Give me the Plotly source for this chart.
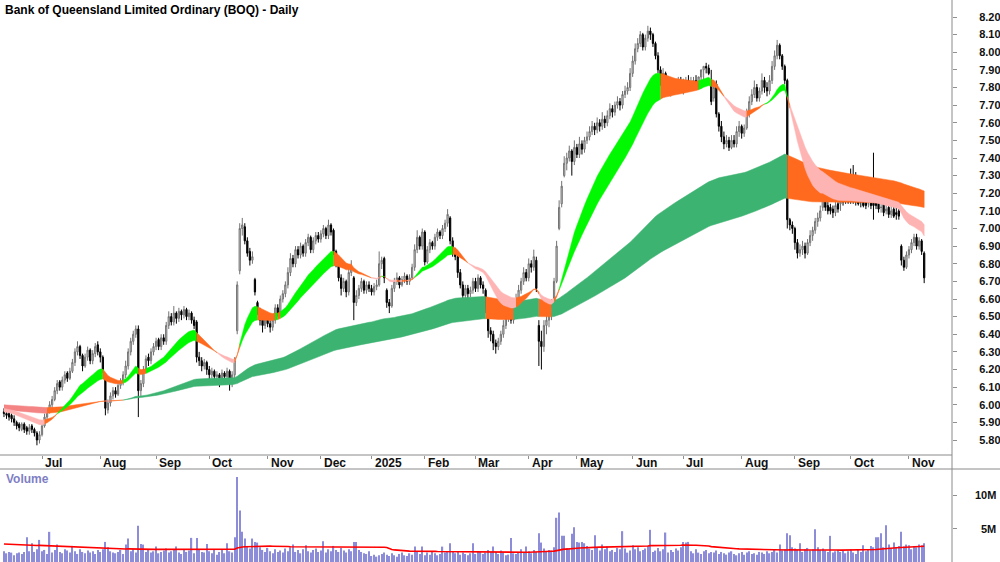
import numpy as np
import pandas as pd
import plotly.graph_objects as go

title = "Bank of Queensland Limited Ordinary (BOQ) - Daily"
first_day = "2024-06-07"
last_day = "2025-11-11"
asx_holidays = ["2024-06-10", "2024-12-25", "2024-12-26", "2025-01-01", "2025-01-27",
                "2025-04-18", "2025-04-21", "2025-04-25", "2025-06-09"]

opens = [
    5.96, 5.95, 5.95, 5.94, 5.92, 5.90, 5.89, 5.86, 5.89, 5.87,
    5.85, 5.88, 5.86, 5.84, 5.80, 5.83, 5.88, 5.93, 5.96, 6.00,
    6.03, 6.08, 6.13, 6.10, 6.14, 6.18, 6.15, 6.19, 6.24, 6.30,
    6.33, 6.28, 6.22, 6.27, 6.31, 6.25, 6.29, 6.34, 6.30, 6.27,
    6.16, 5.97, 6.01, 6.05, 6.08, 6.06, 6.11, 6.13, 6.17, 6.22,
    6.30, 6.36, 6.40, 6.43, 6.08, 6.12, 6.20, 6.27, 6.25, 6.30,
    6.33, 6.37, 6.33, 6.38, 6.36, 6.45, 6.50, 6.47, 6.52, 6.49,
    6.53, 6.51, 6.54, 6.50, 6.52, 6.48, 6.47, 6.27, 6.25, 6.22,
    6.24, 6.20, 6.17, 6.19, 6.16, 6.17, 6.15, 6.18, 6.16, 6.19,
    6.15, 6.17, 6.42, 6.76, 7.00, 7.01, 6.93, 6.87, 6.82, 6.71,
    6.58, 6.53, 6.48, 6.45, 6.50, 6.46, 6.44, 6.48, 6.55, 6.52,
    6.60, 6.63, 6.68, 6.75, 6.83, 6.80, 6.88, 6.85, 6.90, 6.86,
    6.92, 6.95, 6.88, 6.93, 6.96, 6.94, 6.97, 7.00, 6.96, 7.02,
    6.99, 6.87, 6.80, 6.72, 6.66, 6.70, 6.64, 6.75, 6.72, 6.58,
    6.62, 6.66, 6.70, 6.65, 6.68, 6.66, 6.64, 6.67, 6.68, 6.80,
    6.83, 6.65, 6.58, 6.56, 6.66, 6.70, 6.72, 6.68, 6.71, 6.73,
    6.70, 6.72, 6.78, 6.88, 6.95, 6.90, 6.98, 6.81, 6.88, 6.92,
    6.90, 6.95, 6.98, 6.96, 7.00, 7.03, 7.06, 6.93, 6.87, 6.84,
    6.75, 6.68, 6.62, 6.66, 6.63, 6.65, 6.70, 6.66, 6.72, 6.68,
    6.65, 6.55, 6.42, 6.40, 6.35, 6.33, 6.36, 6.40, 6.45, 6.50,
    6.53, 6.48, 6.55, 6.60, 6.65, 6.70, 6.75, 6.72, 6.80, 6.78,
    6.82, 6.45, 6.36, 6.33, 6.45, 6.48, 6.52, 6.58, 6.70, 7.00,
    7.14, 7.30, 7.37, 7.40, 7.44, 7.38, 7.46, 7.42, 7.48, 7.45,
    7.50, 7.52, 7.55, 7.58, 7.56, 7.60, 7.58, 7.62, 7.60, 7.64,
    7.68, 7.66, 7.70, 7.72, 7.70, 7.76, 7.78, 7.80, 7.88, 7.95,
    8.02, 8.05, 8.10, 8.03, 8.08, 8.12, 8.10, 8.05, 7.98, 7.90,
    7.85, 7.88, 7.80, 7.83, 7.78, 7.82, 7.80, 7.83, 7.79, 7.82,
    7.84, 7.81, 7.83, 7.84, 7.82, 7.86, 7.90, 7.92, 7.91, 7.84,
    7.74, 7.82, 7.65, 7.58, 7.52, 7.48, 7.50, 7.46, 7.50, 7.48,
    7.55, 7.58, 7.54, 7.57, 7.65, 7.72, 7.76, 7.80, 7.74, 7.78,
    7.84, 7.80, 7.78, 7.84, 7.92, 7.98, 8.04, 7.98, 7.92, 7.84,
    7.05, 7.02, 7.00, 6.92, 6.86, 6.88, 6.90, 6.86, 6.92, 6.96,
    6.99, 7.04, 7.06, 7.12, 7.18, 7.13, 7.12, 7.11, 7.09, 7.14,
    7.14, 7.18, 7.22, 7.25, 7.22, 7.30, 7.26, 7.22, 7.20, 7.24,
    7.19, 7.14, 7.20, 7.20, 7.16, 7.15, 7.12, 7.14, 7.10, 7.12,
    7.08, 7.11, 7.09, 7.10, 6.90, 6.82, 6.78, 6.85, 6.88, 6.92,
    6.95, 6.90, 6.93, 6.86,
]
highs = [
    5.98, 5.97, 5.96, 5.95, 5.94, 5.91, 5.90, 5.90, 5.90, 5.88,
    5.89, 5.89, 5.87, 5.85, 5.85, 5.90, 5.95, 5.98, 6.02, 6.05,
    6.10, 6.14, 6.14, 6.16, 6.19, 6.19, 6.21, 6.26, 6.32, 6.36,
    6.34, 6.29, 6.29, 6.33, 6.32, 6.31, 6.35, 6.36, 6.32, 6.28,
    6.17, 6.03, 6.07, 6.10, 6.10, 6.13, 6.15, 6.19, 6.25, 6.32,
    6.38, 6.42, 6.45, 6.45, 6.14, 6.22, 6.28, 6.29, 6.32, 6.35,
    6.38, 6.38, 6.40, 6.40, 6.47, 6.53, 6.52, 6.56, 6.53, 6.55,
    6.54, 6.56, 6.55, 6.54, 6.53, 6.50, 6.48, 6.30, 6.27, 6.26,
    6.25, 6.22, 6.21, 6.20, 6.19, 6.18, 6.20, 6.19, 6.21, 6.20,
    6.19, 6.27, 6.70, 7.03, 7.06, 7.03, 6.95, 6.89, 6.87, 6.72,
    6.59, 6.55, 6.50, 6.52, 6.52, 6.48, 6.50, 6.57, 6.57, 6.62,
    6.65, 6.70, 6.78, 6.86, 6.85, 6.90, 6.90, 6.92, 6.91, 6.94,
    6.97, 6.96, 6.95, 6.98, 6.98, 6.99, 7.02, 7.01, 7.05, 7.03,
    7.00, 6.88, 6.82, 6.74, 6.72, 6.71, 6.77, 6.82, 6.73, 6.65,
    6.68, 6.72, 6.71, 6.70, 6.70, 6.68, 6.69, 6.71, 6.87, 6.84,
    6.84, 6.66, 6.60, 6.68, 6.72, 6.75, 6.73, 6.73, 6.75, 6.74,
    6.74, 6.80, 6.91, 6.99, 6.96, 7.00, 6.99, 6.90, 6.94, 6.93,
    6.97, 7.00, 6.99, 7.02, 7.05, 7.11, 7.07, 6.95, 6.89, 6.85,
    6.77, 6.70, 6.68, 6.68, 6.67, 6.72, 6.72, 6.74, 6.73, 6.70,
    6.66, 6.56, 6.44, 6.42, 6.37, 6.38, 6.42, 6.48, 6.52, 6.58,
    6.56, 6.57, 6.63, 6.68, 6.72, 6.78, 6.77, 6.83, 6.82, 6.88,
    6.84, 6.48, 6.42, 6.48, 6.52, 6.55, 6.60, 6.72, 6.93, 7.16,
    7.27, 7.41, 7.43, 7.47, 7.45, 7.50, 7.48, 7.52, 7.50, 7.52,
    7.55, 7.58, 7.61, 7.60, 7.63, 7.62, 7.66, 7.64, 7.67, 7.71,
    7.70, 7.72, 7.75, 7.74, 7.78, 7.81, 7.83, 7.91, 7.98, 8.05,
    8.08, 8.12, 8.11, 8.10, 8.15, 8.14, 8.11, 8.06, 8.00, 7.92,
    7.91, 7.89, 7.86, 7.85, 7.85, 7.84, 7.86, 7.86, 7.85, 7.86,
    7.87, 7.86, 7.86, 7.87, 7.86, 7.89, 7.92, 7.94, 7.93, 7.90,
    7.84, 7.84, 7.66, 7.61, 7.55, 7.53, 7.52, 7.53, 7.53, 7.58,
    7.61, 7.59, 7.59, 7.68, 7.75, 7.79, 7.84, 7.82, 7.80, 7.88,
    7.86, 7.83, 7.87, 7.95, 8.01, 8.07, 8.05, 7.99, 7.93, 7.85,
    7.06, 7.04, 7.01, 6.94, 6.91, 6.93, 6.92, 6.94, 6.99, 7.01,
    7.06, 7.09, 7.13, 7.21, 7.19, 7.15, 7.14, 7.13, 7.16, 7.18,
    7.22, 7.27, 7.31, 7.30, 7.34, 7.36, 7.32, 7.29, 7.28, 7.27,
    7.23, 7.25, 7.24, 7.43, 7.22, 7.19, 7.18, 7.17, 7.16, 7.15,
    7.14, 7.13, 7.12, 7.11, 6.91, 6.84, 6.87, 6.90, 6.94, 6.97,
    6.97, 6.95, 6.94, 6.87,
]
lows = [
    5.93, 5.92, 5.91, 5.90, 5.88, 5.86, 5.85, 5.85, 5.84, 5.83,
    5.83, 5.84, 5.82, 5.77, 5.78, 5.82, 5.87, 5.91, 5.95, 5.98,
    6.02, 6.06, 6.08, 6.08, 6.12, 6.13, 6.14, 6.18, 6.22, 6.28,
    6.26, 6.19, 6.21, 6.25, 6.23, 6.23, 6.27, 6.28, 6.24, 6.18,
    5.94, 5.95, 5.99, 6.03, 6.04, 6.05, 6.09, 6.11, 6.15, 6.20,
    6.28, 6.34, 6.38, 5.93, 6.05, 6.10, 6.18, 6.22, 6.23, 6.28,
    6.31, 6.31, 6.31, 6.34, 6.34, 6.43, 6.45, 6.45, 6.46, 6.47,
    6.48, 6.49, 6.48, 6.48, 6.46, 6.43, 6.24, 6.22, 6.19, 6.20,
    6.17, 6.14, 6.15, 6.13, 6.13, 6.10, 6.12, 6.12, 6.14, 6.08,
    6.10, 6.14, 6.40, 6.74, 6.96, 6.91, 6.84, 6.79, 6.80, 6.62,
    6.51, 6.45, 6.41, 6.43, 6.44, 6.41, 6.42, 6.46, 6.50, 6.50,
    6.58, 6.61, 6.66, 6.73, 6.78, 6.78, 6.83, 6.83, 6.84, 6.84,
    6.90, 6.86, 6.86, 6.91, 6.92, 6.92, 6.95, 6.94, 6.94, 6.96,
    6.85, 6.78, 6.70, 6.62, 6.64, 6.61, 6.62, 6.73, 6.48, 6.56,
    6.60, 6.64, 6.63, 6.63, 6.64, 6.62, 6.62, 6.65, 6.67, 6.77,
    6.69, 6.55, 6.52, 6.55, 6.64, 6.68, 6.66, 6.67, 6.69, 6.68,
    6.68, 6.71, 6.76, 6.86, 6.88, 6.88, 6.79, 6.80, 6.86, 6.88,
    6.88, 6.93, 6.94, 6.94, 6.98, 7.01, 6.91, 6.84, 6.82, 6.72,
    6.66, 6.58, 6.60, 6.60, 6.61, 6.63, 6.64, 6.64, 6.66, 6.63,
    6.52, 6.38, 6.36, 6.31, 6.29, 6.31, 6.34, 6.38, 6.43, 6.47,
    6.46, 6.46, 6.53, 6.58, 6.63, 6.68, 6.70, 6.70, 6.75, 6.76,
    6.64, 6.22, 6.20, 6.30, 6.40, 6.44, 6.48, 6.56, 6.69, 6.99,
    7.12, 7.29, 7.33, 7.38, 7.30, 7.36, 7.40, 7.40, 7.42, 7.43,
    7.48, 7.50, 7.53, 7.53, 7.54, 7.55, 7.56, 7.57, 7.58, 7.62,
    7.63, 7.64, 7.68, 7.67, 7.68, 7.74, 7.76, 7.78, 7.86, 7.93,
    8.00, 8.03, 8.01, 8.01, 8.06, 8.07, 8.03, 7.96, 7.88, 7.81,
    7.83, 7.77, 7.78, 7.75, 7.76, 7.78, 7.77, 7.78, 7.76, 7.78,
    7.80, 7.78, 7.80, 7.81, 7.79, 7.81, 7.84, 7.88, 7.87, 7.70,
    7.72, 7.63, 7.55, 7.49, 7.45, 7.46, 7.44, 7.45, 7.46, 7.46,
    7.52, 7.51, 7.52, 7.56, 7.63, 7.70, 7.74, 7.72, 7.72, 7.76,
    7.77, 7.75, 7.76, 7.82, 7.90, 7.96, 7.96, 7.90, 7.82, 7.00,
    6.99, 6.97, 6.88, 6.83, 6.84, 6.85, 6.83, 6.85, 6.90, 6.93,
    6.97, 7.01, 7.04, 7.10, 7.10, 7.08, 7.08, 7.06, 7.07, 7.09,
    7.10, 7.13, 7.14, 7.14, 7.14, 7.14, 7.13, 7.13, 7.12, 7.12,
    7.11, 7.12, 7.11, 7.05, 7.11, 7.09, 7.09, 7.07, 7.08, 7.06,
    7.06, 7.06, 7.05, 7.05, 6.79, 6.76, 6.77, 6.83, 6.86, 6.90,
    6.88, 6.88, 6.85, 6.69,
]
closes = [
    5.95, 5.94, 5.93, 5.92, 5.90, 5.88, 5.87, 5.89, 5.86, 5.85,
    5.87, 5.86, 5.84, 5.80, 5.83, 5.88, 5.93, 5.97, 6.00, 6.03,
    6.08, 6.12, 6.10, 6.14, 6.17, 6.15, 6.19, 6.24, 6.30, 6.33,
    6.28, 6.22, 6.27, 6.31, 6.25, 6.29, 6.33, 6.30, 6.27, 6.20,
    5.98, 6.01, 6.05, 6.08, 6.06, 6.11, 6.13, 6.17, 6.22, 6.30,
    6.36, 6.40, 6.43, 6.08, 6.12, 6.20, 6.26, 6.25, 6.30, 6.33,
    6.36, 6.33, 6.38, 6.36, 6.45, 6.50, 6.47, 6.52, 6.49, 6.53,
    6.51, 6.54, 6.50, 6.52, 6.48, 6.45, 6.27, 6.25, 6.22, 6.24,
    6.20, 6.17, 6.19, 6.16, 6.17, 6.15, 6.18, 6.16, 6.19, 6.15,
    6.17, 6.25, 6.68, 7.00, 7.02, 6.93, 6.86, 6.82, 6.84, 6.64,
    6.53, 6.48, 6.45, 6.50, 6.46, 6.44, 6.48, 6.55, 6.52, 6.60,
    6.63, 6.68, 6.75, 6.83, 6.80, 6.88, 6.85, 6.90, 6.86, 6.92,
    6.95, 6.88, 6.93, 6.96, 6.94, 6.97, 7.00, 6.96, 7.02, 6.98,
    6.87, 6.80, 6.72, 6.66, 6.70, 6.64, 6.75, 6.78, 6.58, 6.62,
    6.66, 6.70, 6.65, 6.68, 6.66, 6.64, 6.67, 6.68, 6.80, 6.82,
    6.72, 6.58, 6.56, 6.66, 6.70, 6.72, 6.68, 6.71, 6.73, 6.70,
    6.72, 6.78, 6.88, 6.95, 6.90, 6.98, 6.81, 6.88, 6.92, 6.90,
    6.95, 6.98, 6.96, 7.00, 7.03, 7.08, 6.93, 6.86, 6.84, 6.75,
    6.68, 6.62, 6.66, 6.63, 6.65, 6.70, 6.66, 6.72, 6.68, 6.66,
    6.55, 6.42, 6.40, 6.35, 6.33, 6.36, 6.40, 6.45, 6.50, 6.53,
    6.48, 6.55, 6.60, 6.65, 6.70, 6.75, 6.72, 6.80, 6.78, 6.84,
    6.66, 6.36, 6.33, 6.45, 6.48, 6.52, 6.56, 6.70, 6.90, 7.12,
    7.24, 7.37, 7.40, 7.44, 7.38, 7.46, 7.42, 7.48, 7.45, 7.50,
    7.52, 7.55, 7.58, 7.56, 7.60, 7.58, 7.62, 7.60, 7.64, 7.68,
    7.66, 7.70, 7.72, 7.70, 7.76, 7.78, 7.80, 7.88, 7.95, 8.02,
    8.05, 8.10, 8.03, 8.08, 8.12, 8.10, 8.05, 7.98, 7.90, 7.85,
    7.88, 7.80, 7.83, 7.78, 7.82, 7.80, 7.83, 7.79, 7.82, 7.84,
    7.81, 7.83, 7.84, 7.82, 7.86, 7.90, 7.92, 7.91, 7.88, 7.72,
    7.80, 7.65, 7.58, 7.52, 7.48, 7.50, 7.46, 7.50, 7.48, 7.55,
    7.58, 7.54, 7.57, 7.65, 7.72, 7.76, 7.80, 7.74, 7.78, 7.84,
    7.80, 7.78, 7.84, 7.92, 7.98, 8.04, 7.98, 7.92, 7.84, 7.05,
    7.02, 7.00, 6.92, 6.86, 6.88, 6.90, 6.86, 6.92, 6.96, 6.99,
    7.04, 7.06, 7.10, 7.18, 7.12, 7.10, 7.10, 7.09, 7.13, 7.11,
    7.15, 7.15, 7.16, 7.15, 7.16, 7.16, 7.15, 7.14, 7.15, 7.13,
    7.13, 7.14, 7.13, 7.13, 7.13, 7.11, 7.12, 7.09, 7.11, 7.08,
    7.10, 7.07, 7.08, 7.07, 6.82, 6.78, 6.85, 6.88, 6.92, 6.95,
    6.90, 6.93, 6.87, 6.72,
]
volumes_m = [
    1.6, 1.3, 1.5, 1.4, 1.0, 1.3, 1.4, 1.2, 1.5, 3.7,
    1.6, 2.8, 1.5, 1.9, 3.3, 1.6, 1.8, 1.2, 4.5, 1.4,
    1.8, 2.6, 1.5, 1.3, 1.9, 1.7, 1.4, 2.4, 1.6, 1.2,
    1.9, 1.5, 1.3, 1.7, 1.4, 1.6, 1.2, 1.8, 1.5, 1.9,
    3.0, 2.2, 1.6, 1.4, 1.3, 1.5, 1.8, 1.2, 2.6, 3.5,
    1.6, 1.9, 1.4, 5.4, 2.7, 2.6, 1.5, 1.8, 1.4, 1.6,
    2.3, 1.3, 1.5, 1.7, 2.0, 1.4, 1.6, 1.8, 2.3, 1.4,
    1.2, 1.9, 1.5, 1.7, 3.6, 1.3, 3.6, 1.8, 1.5, 1.4,
    2.7, 1.6, 1.3, 1.8, 1.1, 1.5, 1.9, 1.3, 2.8, 1.6,
    1.4, 3.7, 12.7, 7.7, 4.5, 3.5, 2.4, 2.0, 3.5, 3.0,
    2.9, 2.2, 1.8, 1.5, 2.1, 1.6, 1.3, 1.9, 1.5, 1.7,
    1.4, 2.0, 1.6, 2.2, 2.6, 1.5, 1.8, 1.3, 1.9, 2.5,
    1.6, 1.4, 1.8, 2.0, 1.5, 1.7, 3.1, 1.4, 1.9, 1.6,
    2.4, 1.8, 1.5, 2.1, 1.7, 1.4, 1.9, 1.6, 3.0, 3.0,
    1.8, 1.5, 1.3, 1.2, 1.6, 0.9, 1.1, 0.8, 1.0, 1.2,
    1.4, 1.1, 0.9, 1.3, 1.0, 0.8, 1.2, 1.4, 1.0, 0.9,
    1.3, 1.1, 2.3, 1.5, 1.2, 2.3, 1.0, 1.4, 1.1, 1.6,
    1.3, 1.0, 1.2, 2.3, 1.4, 1.5, 2.8, 1.6, 1.3, 1.5,
    1.1, 1.4, 1.2, 1.0, 1.3, 2.8, 1.2, 1.6, 1.5, 1.2,
    1.4, 1.8, 1.5, 2.3, 1.5, 1.2, 1.7, 1.4, 1.0, 1.1,
    3.6, 1.3, 1.2, 1.5, 1.9, 1.4, 2.3, 1.6, 1.3, 1.8,
    1.5, 4.3, 2.9, 2.0, 1.6, 1.8, 1.7, 2.2, 6.6, 7.4,
    3.9, 3.9, 2.1, 1.9, 4.2, 5.2, 3.0, 2.9, 3.0, 2.8,
    2.4, 2.0, 1.8, 4.0, 2.2, 1.7, 2.6, 1.9, 2.3, 1.6,
    1.8, 1.5, 2.1, 1.9, 4.6, 2.0, 1.4, 1.7, 2.5, 1.9,
    2.2, 1.6, 1.8, 2.0, 2.4, 4.8, 1.5, 1.7, 2.1, 1.6,
    1.9, 4.4, 1.4, 1.8, 1.5, 2.0, 1.7, 2.2, 3.0, 2.9,
    3.0, 1.6, 1.3, 1.9, 1.4, 1.2, 1.6, 1.8, 1.3, 1.5,
    1.4, 1.7, 1.2, 1.5, 1.3, 1.1, 1.4, 1.6, 1.2, 1.0,
    1.3, 1.5, 1.1, 1.4, 1.6, 1.2, 1.3, 1.1, 1.5, 1.4,
    1.2, 1.6, 1.3, 1.5, 1.8, 1.4, 2.6, 1.7, 1.9, 4.3,
    4.0, 2.2, 2.0, 1.8, 2.8, 1.5, 1.9, 2.1, 1.7, 1.9,
    4.9, 2.2, 1.8, 2.0, 1.7, 1.5, 3.9, 1.4, 1.6, 1.8,
    1.5, 1.7, 1.3, 1.6, 1.9, 1.4, 1.2, 1.8, 1.5, 2.5,
    1.6, 1.9, 2.4, 2.2, 3.7, 3.7, 4.3, 2.2, 5.5, 2.6,
    2.0, 2.9, 2.1, 2.4, 4.5, 2.3, 2.6, 2.5, 1.9, 2.4,
    2.2, 2.6, 2.5, 2.8,
]

# Trend ribbons: each is the area between a fast and a slow EMA.
short_ribbon_periods = [21, 34]
long_ribbon_periods = [144, 233]
short_ribbon_seed = [5.960, 5.980]
long_ribbon_seed = [5.970, 6.000]
short_slope_tolerance = 0.0005
long_slope_tolerance = 0.0
vol_ma_window = 60
vol_ma_seed_m = 2.7

price_ticks = [5.80, 5.90, 6.00, 6.10, 6.20, 6.30, 6.40, 6.50, 6.60, 6.70, 6.80, 6.90,
               7.00, 7.10, 7.20, 7.30, 7.40, 7.50, 7.60, 7.70, 7.80, 7.90, 8.00, 8.10, 8.20]
volume_ticks_m = [5, 10]
volume_tick_text = ["5M", "10M"]

# colours
C_SHORT_UP = "#00F800"
C_SHORT_DOWN = "#FFB4B4"
C_LONG_UP = "#3CB371"
C_LONG_DOWN = "#F48484"
C_MIXED = "#FF6A1E"
C_VOL = "#8C8CD8"

# ---------------- dates / x positions ----------------
days = pd.bdate_range(first_day, last_day)
days = days[~days.isin(pd.to_datetime(asx_holidays))]
n = min(len(days), len(closes))
days = days[:n]
xi = np.arange(n)

month_idx, month_txt = [], []
prev = None
for i, d in enumerate(days):
    key = (d.year, d.month)
    if key != prev:
        if i > 0:
            month_idx.append(i)
            month_txt.append(str(d.year) if d.month == 1 else d.strftime("%b"))
        prev = key

# ---------------- indicators ----------------
c = np.array(closes[:n])


def ema(period, seed):
    a = 2.0 / (period + 1)
    e = seed
    out = []
    for v in c:
        e = e + a * (v - e)
        out.append(e)
    return np.array(out)


def ribbon(periods, seeds, tol, slope_of="fast"):
    fast = ema(periods[0], seeds[0])
    slow = ema(periods[1], seeds[1])
    if slope_of == "fast":
        line = fast
        start = seeds[0]
    else:
        line = (fast + slow) / 2.0
        start = (seeds[0] + seeds[1]) / 2.0
    prev_line = np.concatenate([[start], line[:-1]])
    rising = line > prev_line + tol
    up = (fast > slow) & rising
    down = (fast < slow) & (~rising)
    st = np.where(up, 1, np.where(down, -1, 0))
    return np.maximum(fast, slow), np.minimum(fast, slow), st


vol = np.array(volumes_m[:n]) * 1e6
vol_ma = []
for i in range(n):
    lo_i = max(0, i - vol_ma_window + 1)
    window = vol[lo_i:i + 1]
    missing = vol_ma_window - len(window)
    vol_ma.append((window.sum() + missing * vol_ma_seed_m * 1e6) / vol_ma_window)

# ---------------- figure ----------------
H = 562.0
price_bottom_px = 455
vol_top_px = 470
y_dom_price = [1 - price_bottom_px / H, 1]
y_dom_vol = [0, 1 - vol_top_px / H]
x_dom = [0, 0.952]

fig = go.Figure()


def add_ribbon(hi, lo, st, colors):
    i = 0
    while i < n:
        j = i
        while j + 1 < n and st[j + 1] == st[i]:
            j += 1
        end = min(j + 1, n - 1)
        xs = list(range(i, end + 1))
        ys = list(hi[i:end + 1]) + list(lo[i:end + 1][::-1])
        col = colors[int(st[i])]
        fig.add_trace(go.Scatter(x=xs + xs[::-1], y=ys, fill="toself",
                                 fillcolor=col, mode="lines",
                                 line=dict(width=0.5, color=col),
                                 hoverinfo="skip", showlegend=False,
                                 xaxis="x", yaxis="y"))
        i = j + 1


add_ribbon(*ribbon(long_ribbon_periods, long_ribbon_seed, long_slope_tolerance, "mid"),
           {1: C_LONG_UP, -1: C_LONG_DOWN, 0: C_MIXED})
add_ribbon(*ribbon(short_ribbon_periods, short_ribbon_seed, short_slope_tolerance, "fast"),
           {1: C_SHORT_UP, -1: C_SHORT_DOWN, 0: C_MIXED})

fig.add_trace(go.Candlestick(
    x=xi, open=opens[:n], high=highs[:n], low=lows[:n], close=closes[:n],
    increasing=dict(line=dict(color="#727272", width=1), fillcolor="#DCDCDC"),
    decreasing=dict(line=dict(color="#000000", width=1), fillcolor="#000000"),
    whiskerwidth=0, showlegend=False, xaxis="x", yaxis="y"))

fig.add_trace(go.Bar(x=xi, y=vol, marker=dict(color=C_VOL, line=dict(width=0)),
                     width=0.5, showlegend=False, xaxis="x2", yaxis="y2"))
fig.add_trace(go.Scatter(x=xi, y=vol_ma, mode="lines",
                         line=dict(color="#FF0000", width=1.6),
                         showlegend=False, xaxis="x2", yaxis="y2"))

x_left = 15 - 42 / 2.535
x_right = x_left + 952 / 2.535
p_top = 8.20 + 17 / 176.25
p_bot = 8.20 - (price_bottom_px - 17) / 176.25

font_b = dict(family="Liberation Sans, Arial, sans-serif", size=11, color="#111111", weight="bold")

fig.update_layout(
    width=1000, height=562,
    margin=dict(l=0, r=0, t=0, b=0),
    paper_bgcolor="white", plot_bgcolor="white",
    showlegend=False,
    xaxis=dict(domain=x_dom, range=[x_left, x_right], anchor="y",
               showgrid=False, zeroline=False, showline=False,
               tickvals=month_idx, ticktext=[""] * len(month_idx),
               ticks="outside", ticklen=3, tickcolor="#909090",
               rangeslider=dict(visible=False)),
    yaxis=dict(domain=y_dom_price, range=[p_bot, p_top], side="right", anchor="x",
               showgrid=False, zeroline=False, showline=False,
               tickvals=price_ticks, tickformat=".2f",
               ticks="outside", ticklen=4, tickcolor="#909090",
               tickfont=font_b, ticklabelstandoff=20),
    xaxis2=dict(domain=x_dom, range=[x_left, x_right], anchor="y2", matches="x",
                showgrid=False, zeroline=False, showline=False,
                showticklabels=False, ticks=""),
    yaxis2=dict(domain=y_dom_vol, range=[0, (H - vol_top_px) / 6.7 * 1e6], side="right",
                anchor="x2", showgrid=False, zeroline=False, showline=False,
                tickvals=[v * 1e6 for v in volume_ticks_m], ticktext=[""] * len(volume_ticks_m),
                ticks="outside", ticklen=4, tickcolor="#909090"),
    bargap=0.5,
)

for v, t in zip(volume_ticks_m, volume_tick_text):
    fig.add_annotation(x=0.998, xref="paper", y=v * 1e6, yref="y2", text=t,
                       showarrow=False, xanchor="right", yanchor="middle",
                       font=dict(family="Liberation Sans, Arial, sans-serif", size=11,
                                 color="#111111", weight="bold"))

for i, t in zip(month_idx, month_txt):
    fig.add_annotation(x=i, xref="x", y=1 - 463 / H, yref="paper", text=t,
                       showarrow=False, xanchor="left", yanchor="middle", xshift=1,
                       font=dict(family="Liberation Sans, Arial, sans-serif", size=12,
                                 color="#111111", weight="bold"))

fig.add_annotation(x=0.003, xref="paper", y=1 - 10 / H, yref="paper", text=title,
                   showarrow=False, xanchor="left", yanchor="middle",
                   font=dict(family="Liberation Sans, Arial, sans-serif", size=12,
                             color="#000000", weight="bold"))
fig.add_annotation(x=0.004, xref="paper", y=1 - 479 / H, yref="paper", text="Volume",
                   showarrow=False, xanchor="left", yanchor="middle",
                   font=dict(family="Liberation Sans, Arial, sans-serif", size=12,
                             color="#7E7EC4", weight="bold"))

line_col = "#8A8A8A"
fig.add_shape(type="line", xref="paper", yref="paper", x0=0.952, x1=0.952, y0=0, y1=1,
              line=dict(color=line_col, width=1))
fig.add_shape(type="line", xref="paper", yref="paper", x0=0, x1=0.952,
              y0=1 - price_bottom_px / H, y1=1 - price_bottom_px / H,
              line=dict(color=line_col, width=1))
fig.add_shape(type="line", xref="paper", yref="paper", x0=0, x1=1,
              y0=1 - 469 / H, y1=1 - 469 / H, line=dict(color=line_col, width=1))

fig.write_html("out.html")
